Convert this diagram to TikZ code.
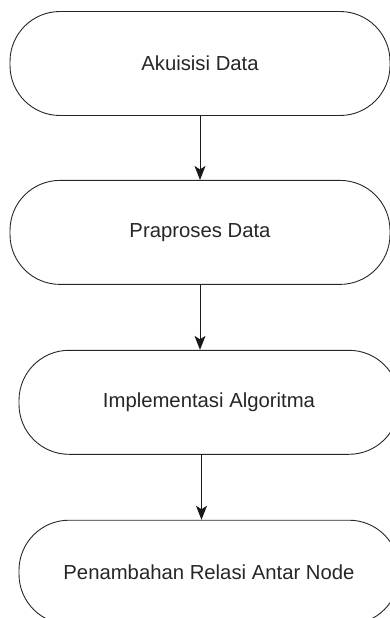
\documentclass[tikz,border=0pt]{standalone}
\usepackage{fontspec}
\setmainfont{Liberation Sans}
\usetikzlibrary{positioning,arrows.meta}
\tikzset{
  proses/.style={draw=black!85, line width=0.9pt, rounded corners=50pt,
    minimum width=380pt, minimum height=104pt, inner sep=0pt,
    font=\fontsize{20.3}{24}\selectfont, text=black!85},
  alur/.style={draw=black!90, line width=0.9pt,
    -{Stealth[length=14pt,width=11pt,inset=3.5pt]}}
}
\begin{document}
\begin{tikzpicture}[x=1pt,y=1pt]
      \useasboundingbox (0,0) rectangle (390,-618);
      \node[proses] (akuisisi) at (200,-63.5) {Akuisisi Data};
      \node[proses, below=64pt of akuisisi] (praproses) {Praproses Data};
      \node[proses, below=65pt of praproses, xshift=9pt] (algoritma) {Implementasi Algoritma};
      \node[proses, below=65pt of algoritma] (relasi) {Penambahan Relasi Antar Node};
      \coordinate (c1) at ([xshift=1.5pt]algoritma.south -| praproses.south);
      \begin{scope}[alur]
        \draw (akuisisi) to (praproses);
        \draw (praproses.south) to (praproses.south |- algoritma.north);
        \draw (c1) to (c1 |- relasi.north);
      \end{scope}
    \end{tikzpicture}
\end{document}
